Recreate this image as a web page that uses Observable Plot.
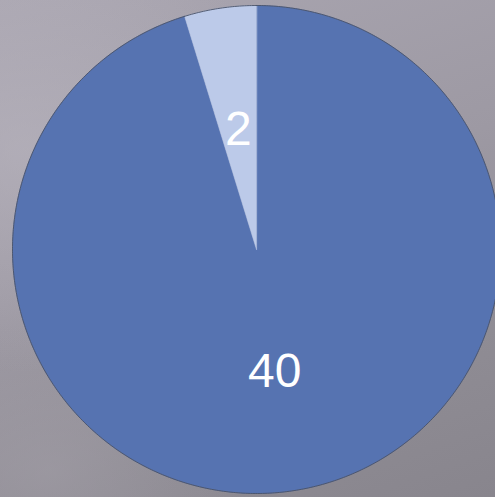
<!DOCTYPE html>
<html>
<head>
<meta charset="utf-8">
<script src="https://cdn.jsdelivr.net/npm/d3@7"></script>
<script src="https://cdn.jsdelivr.net/npm/@observablehq/plot@0.6"></script>
<style>
  html, body { margin: 0; padding: 0; width: 495px; height: 497px; overflow: hidden; }
  body {
    background:
      radial-gradient(ellipse 55% 45% at 5% 30%, rgba(188,184,194,0.55), rgba(188,184,194,0) 100%),
      radial-gradient(ellipse 40% 30% at 10% 95%, rgba(165,161,170,0.5), rgba(165,161,170,0) 100%),
      linear-gradient(160deg, #aaa6b1 0%, #9d99a3 45%, #8f8c94 75%, #88858d 100%);
  }
  #chart svg { display: block; }
</style>
</head>
<body>
<div id="chart"></div>
<script>
// Data
const categories = ["A", "B"];
const values = [40, 2];
const labels = ["40", "2"];
const sliceColors = ["#5673b1", "#bccae9"];

// Pie layout from data (d3.pie: 0 at 12 o'clock, clockwise)
const arcs = d3.pie().sort(null).value(d => d.value)(
  categories.map((c, i) => ({category: c, value: values[i], label: labels[i]}))
);

// Polygon points of each slice and outer-rim points, in unit-circle data space
const pts = [];
const rim = [];
arcs.forEach(a => {
  const c = a.data.category;
  pts.push({category: c, x: 0, y: 0});
  const n = Math.max(2, Math.ceil((a.endAngle - a.startAngle) / 0.01));
  for (let k = 0; k <= n; k++) {
    const t = a.startAngle + (a.endAngle - a.startAngle) * k / n;
    pts.push({category: c, x: Math.sin(t), y: Math.cos(t)});
    rim.push({category: c, x: Math.sin(t), y: Math.cos(t)});
  }
});

// Label positions at half radius on each slice's mid angle
const labelPts = arcs.map(a => {
  const m = (a.startAngle + a.endAngle) / 2;
  return {category: a.data.category, label: a.data.label, x: 0.5 * Math.sin(m), y: 0.5 * Math.cos(m)};
});

const plot = Plot.plot({
  width: 495,
  height: 497,
  margin: 0,
  style: {background: "transparent", overflow: "visible"},
  x: {domain: [-1, 1], range: [12, 500], axis: null},
  y: {domain: [-1, 1], range: [493, 5], axis: null},
  color: {domain: categories, range: sliceColors},
  marks: [
    Plot.line(pts, {
      x: "x", y: "y", z: "category",
      fill: "category",
      stroke: "category",
      strokeWidth: 0.5,
      curve: "linear-closed"
    }),
    Plot.line(rim, {
      x: "x", y: "y", z: "category",
      stroke: "#4a5268",
      strokeWidth: 0.9
    }),
    Plot.text(labelPts, {
      x: "x", y: "y", text: "label",
      fill: "white",
      fontSize: 48,
      fontFamily: "Liberation Sans, Arial, sans-serif",
      dy: 1
    })
  ]
});

document.getElementById("chart").appendChild(plot);
</script>
</body>
</html>
